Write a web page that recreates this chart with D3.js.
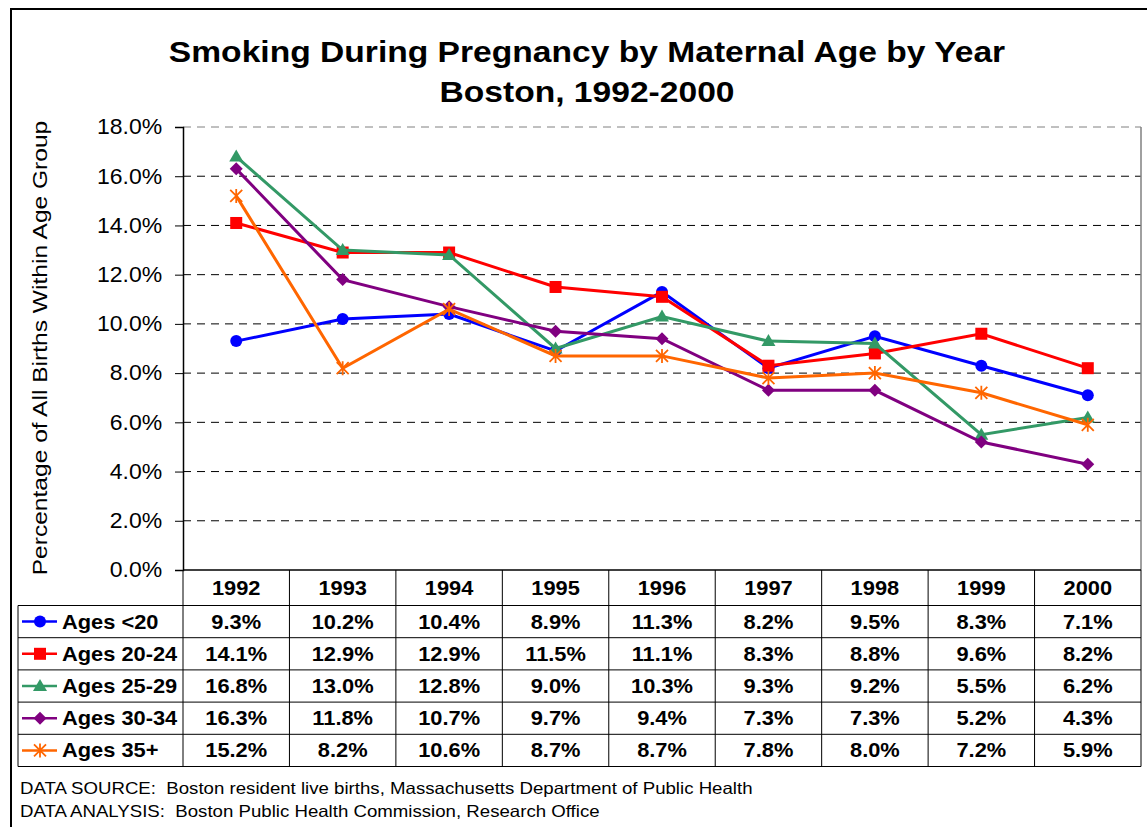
<!DOCTYPE html>
<html>
<head>
<meta charset="utf-8">
<script src="https://cdn.jsdelivr.net/npm/d3@7"></script>
<style>
  body { margin: 0; background: #fff; }
  svg { display: block; font-family: Arial, "Liberation Sans", sans-serif; }
  text { white-space: pre; }
</style>
</head>
<body>
<div id="chart"></div>
<script>
var years = ["1992", "1993", "1994", "1995", "1996", "1997", "1998", "1999", "2000"];
var seriesNames = ["Ages <20", "Ages 20-24", "Ages 25-29", "Ages 30-34", "Ages 35+"];
var under20 = [9.3, 10.2, 10.4, 8.9, 11.3, 8.2, 9.5, 8.3, 7.1];
var ages20to24 = [14.1, 12.9, 12.9, 11.5, 11.1, 8.3, 8.8, 9.6, 8.2];
var ages25to29 = [16.8, 13.0, 12.8, 9.0, 10.3, 9.3, 9.2, 5.5, 6.2];
var ages30to34 = [16.3, 11.8, 10.7, 9.7, 9.4, 7.3, 7.3, 5.2, 4.3];
var ages35plus = [15.2, 8.2, 10.6, 8.7, 8.7, 7.8, 8.0, 7.2, 5.9];
var yTicks = [0, 2, 4, 6, 8, 10, 12, 14, 16, 18];

var allValues = [under20, ages20to24, ages25to29, ages30to34, ages35plus];
var colors = ["#0000ff", "#ff0000", "#339966", "#800080", "#ff6600"];
var symbols = ["circle", "square", "triangle", "diamond", "star"];

var width = 1147, height = 827;
var plotLeft = 183, plotRight = 1141, plotTop = 127, plotBottom = 570;
var rowH = 32.2, headH = 35.5, legendLeft = 18;
var sx = 1.12; // the original font is drawn a bit wider

var svg = d3.select("#chart").append("svg")
  .attr("width", width).attr("height", height);

// text helper, stretched horizontally like the original
function label(parent, x, y, str, size, bold, anchor, stretch) {
  return parent.append("text")
    .attr("transform", "translate(" + x + "," + y + ") scale(" + (stretch || sx) + ",1)")
    .attr("text-anchor", anchor || "start")
    .style("font-size", size + "px")
    .style("font-weight", bold ? "bold" : "normal")
    .text(str);
}

// outer frame
svg.append("rect")
  .attr("x", 11).attr("y", 9).attr("width", 1160).attr("height", 840)
  .attr("fill", "none").attr("stroke", "#000").attr("stroke-width", 2);

// title
label(svg, 587, 62, "Smoking During Pregnancy by Maternal Age by Year", 30, true, "middle");
label(svg, 587, 102, "Boston, 1992-2000", 30, true, "middle");

var x = d3.scaleBand().domain(years).range([plotLeft, plotRight]);
var y = d3.scaleLinear().domain([0, 18]).range([plotBottom, plotTop]);

// gridlines
svg.append("g").selectAll("line")
  .data(yTicks.filter(function(d){ return d > 0; }))
  .enter().append("line")
  .attr("x1", plotLeft).attr("x2", plotRight)
  .attr("y1", function(d){ return y(d); }).attr("y2", function(d){ return y(d); })
  .attr("stroke", function(d){ return d === 18 ? "#808080" : "#000"; })
  .attr("stroke-width", 1)
  .attr("stroke-dasharray", "8,6");

// plot right border
svg.append("line").attr("x1", plotRight).attr("x2", plotRight).attr("y1", plotTop).attr("y2", plotBottom)
  .attr("stroke", "#808080").attr("stroke-width", 1.5);

// y axis
var tickStretch = 1.07;
var yAxis = svg.append("g").attr("transform", "translate(" + plotLeft + ",0)")
  .call(d3.axisLeft(y).tickValues(yTicks).tickSize(8).tickPadding(11.5)
    .tickFormat(function(d){ return d3.format(".1f")(d) + "%"; }));
yAxis.select(".domain").attr("stroke", "#000").attr("stroke-width", 1.5);
yAxis.selectAll(".tick line").attr("stroke", "#000");
yAxis.selectAll("text")
  .attr("transform", "scale(" + tickStretch + ",1)")
  .style("font-size", "21.5px")
  .style("font-family", "Arial, 'Liberation Sans', sans-serif")
  .attr("fill", "#000");

svg.append("text")
  .attr("transform", "translate(47,348) rotate(-90) scale(1.17,1)")
  .attr("text-anchor", "middle")
  .style("font-size", "21px")
  .text("Percentage of All Births Within Age Group");

// lines and markers
var line = d3.line()
  .x(function(d, i){ return x(years[i]) + x.bandwidth() / 2; })
  .y(function(d){ return y(d); });

function marker(g, type, color) {
  if (type === "circle") {
    g.append("circle").attr("r", 6).attr("fill", color);
  } else if (type === "square") {
    g.append("rect").attr("x", -6).attr("y", -6).attr("width", 12).attr("height", 12).attr("fill", color);
  } else if (type === "triangle") {
    g.append("path").attr("d", "M0,-7L7,5L-7,5Z").attr("fill", color);
  } else if (type === "diamond") {
    g.append("path").attr("d", "M0,-6.5L6.5,0L0,6.5L-6.5,0Z").attr("fill", color);
  } else {
    g.append("path").attr("d", "M-6,-6L6,6M6,-6L-6,6M0,-7L0,7")
      .attr("stroke", color).attr("stroke-width", 1.8).attr("fill", "none");
  }
}

allValues.forEach(function(vals, s) {
  svg.append("path").datum(vals)
    .attr("d", line).attr("fill", "none")
    .attr("stroke", colors[s]).attr("stroke-width", 3);
  vals.forEach(function(v, i) {
    var g = svg.append("g").attr("transform",
      "translate(" + (x(years[i]) + x.bandwidth() / 2) + "," + y(v) + ")");
    marker(g, symbols[s], colors[s]);
  });
});

// data table
var table = svg.append("g");
var tableBottom = plotBottom + headH + rowH * seriesNames.length;
table.append("line").attr("x1", plotLeft).attr("x2", plotRight).attr("y1", plotBottom).attr("y2", plotBottom)
  .attr("stroke", "#000").attr("stroke-width", 1.5);
d3.range(seriesNames.length + 1).forEach(function(r) {
  var yy = plotBottom + headH + rowH * r;
  table.append("line").attr("x1", legendLeft).attr("x2", plotRight).attr("y1", yy).attr("y2", yy)
    .attr("stroke", "#000").attr("stroke-width", 1);
});
table.append("line").attr("x1", legendLeft).attr("x2", legendLeft)
  .attr("y1", plotBottom + headH).attr("y2", tableBottom).attr("stroke", "#000");
years.forEach(function(yr) {
  table.append("line").attr("x1", x(yr)).attr("x2", x(yr))
    .attr("y1", plotBottom).attr("y2", tableBottom).attr("stroke", "#000");
});
table.append("line").attr("x1", plotRight).attr("x2", plotRight)
  .attr("y1", plotBottom).attr("y2", tableBottom).attr("stroke", "#000");

// header years
years.forEach(function(yr) {
  label(table, x(yr) + x.bandwidth() / 2, plotBottom + headH / 2 + 7, yr, 19.5, true, "middle");
});

seriesNames.forEach(function(name, s) {
  var cy = plotBottom + headH + rowH * s + rowH / 2;
  table.append("line").attr("x1", 22).attr("x2", 57).attr("y1", cy).attr("y2", cy)
    .attr("stroke", colors[s]).attr("stroke-width", 2.5);
  var g = table.append("g").attr("transform", "translate(40," + cy + ")");
  marker(g, symbols[s], colors[s]);
  label(table, 62, cy + 7, name, 19.5, true, "start");
  allValues[s].forEach(function(v, i) {
    label(table, x(years[i]) + x.bandwidth() / 2, cy + 7, d3.format(".1f")(v) + "%", 19.5, true, "middle");
  });
});

// footer
label(svg, 20, 794, "DATA SOURCE:  Boston resident live births, Massachusetts Department of Public Health", 16.5, false, "start", 1.13);
label(svg, 20, 817, "DATA ANALYSIS:  Boston Public Health Commission, Research Office", 16.5, false, "start", 1.13);
</script>
</body>
</html>
